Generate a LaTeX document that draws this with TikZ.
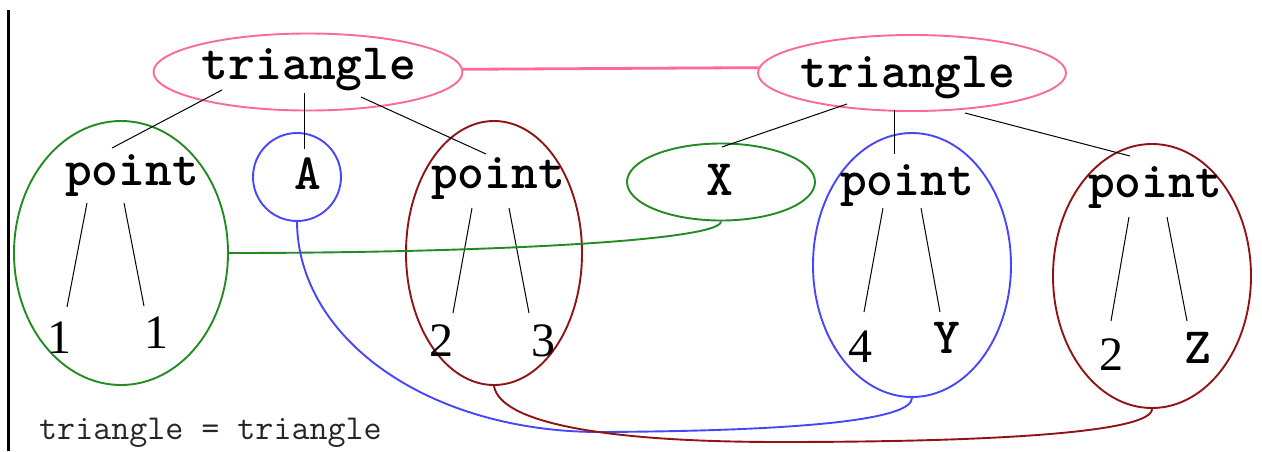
\documentclass[tikz,border=0pt]{standalone}
\usepackage{fontspec}
\usetikzlibrary{shapes.geometric}
\newfontfamily\seriffam{Liberation Serif}
\definecolor{pinkc}{RGB}{255,105,150}
\definecolor{greenc}{RGB}{34,139,34}
\definecolor{bluec}{RGB}{70,70,255}
\definecolor{redc}{RGB}{145,20,20}
\begin{document}
\begin{tikzpicture}[x=1pt,y=-1pt,
  oval/.style={ellipse,draw,line width=1.9pt,inner sep=0pt,fill=none},
  bt/.style={anchor=base,inner sep=0pt,font=\ttfamily\bfseries\fontsize{51}{56}\selectfont},
  num/.style={anchor=base,inner sep=0pt,font=\seriffam\fontsize{48}{52}\selectfont},
  tree/.style={draw=black,line width=1pt},
  link/.style={line width=1.9pt}]
\useasboundingbox (0,0) rectangle (1262,451);
\coordinate (bt0) at (8,10);
\coordinate (bb0) at (8,451);
\draw[line width=3pt] (bt0) -- (bb0);
% ellipses
\node[oval,draw=pinkc,minimum width=309pt,minimum height=77pt] (e1) at (308,72) {};
\node[oval,draw=pinkc,minimum width=308pt,minimum height=76pt] (e2) at (912,73) {};
\node[oval,draw=greenc,minimum width=214pt,minimum height=264pt] (p1) at (121,253) {};
\node[oval,draw=bluec,minimum width=88pt,minimum height=88pt] (ca) at (297,177) {};
\node[oval,draw=redc,minimum width=176pt,minimum height=264pt] (p2) at (494,253) {};
\node[oval,draw=greenc,minimum width=188pt,minimum height=77pt] (cx) at (721,182) {};
\node[oval,draw=bluec,minimum width=198pt,minimum height=264pt] (p3) at (912,265) {};
\node[oval,draw=redc,minimum width=198pt,minimum height=264pt] (p4) at (1152,276) {};
% texts
\node[bt] (t1) at (309,79) {triangle};
\node[bt] (t2) at (908,87) {triangle};
\node[bt] (tp1) at (132,185) {point};
\node[bt] (ta) at (308,189) {A};
\node[bt] (tp2) at (498,188) {point};
\node[bt] (tx) at (720,195) {X};
\node[bt] (tp3) at (907,195) {point};
\node[bt] (tp4) at (1155,197) {point};
\node[num] (n1) at (59,353) {1};
\node[num] (n2) at (156,348) {1};
\node[num] (n3) at (441,356) {2};
\node[num] (n4) at (543,356) {3};
\node[num] (n5) at (860,362) {4};
\node[bt] (ty) at (947,353) {Y};
\node[num] (n6) at (1111,370) {2};
\node[bt] (tz) at (1198,363) {Z};
\node[anchor=base west,inner sep=0pt,text=black!85,font=\ttfamily\fontsize{35}{38}\selectfont] (cap) at (39,439) {triangle = triangle};
% tree line end points
\coordinate (a1) at (222,90); \coordinate (a2) at (112,148);
\coordinate (a3) at (304,93); \coordinate (a4) at (304,149);
\coordinate (a5) at (361,97); \coordinate (a6) at (486,154);
\coordinate (b1) at (87,203); \coordinate (b2) at (67,307);
\coordinate (b3) at (124,203); \coordinate (b4) at (144,306);
\coordinate (c1) at (472,208); \coordinate (c2) at (453,313);
\coordinate (c3) at (509,208); \coordinate (c4) at (529,313);
\coordinate (d1) at (847,104); \coordinate (d2) at (722,147);
\coordinate (d3) at (894,110); \coordinate (d4) at (894,154);
\coordinate (d5) at (965,113); \coordinate (d6) at (1130,156);
\coordinate (f1) at (883,208); \coordinate (f2) at (864,312);
\coordinate (f3) at (921,208); \coordinate (f4) at (940,312);
\coordinate (g1) at (1129,217); \coordinate (g2) at (1111,321);
\coordinate (g3) at (1167,217); \coordinate (g4) at (1187,321);
\foreach \u/\v in {a1/a2,a3/a4,a5/a6,b1/b2,b3/b4,c1/c2,c3/c4,d1/d2,d3/d4,d5/d6,f1/f2,f3/f4,g1/g2,g3/g4}
  \draw[tree] (\u) -- (\v);
% links
\draw[link,draw=pinkc,line width=2.8pt] (e1.1.5) -- (e2.178);
\draw[link,draw=greenc] (p1.east) .. controls (480,253) and (721,241) .. (cx.south);
\draw[link,draw=bluec] (ca.south) .. controls (298,340) and (430,432) .. (600,432) .. controls (800,431) and (912,420) .. (p3.south);
\draw[link,draw=redc] (p2.south) .. controls (500,422) and (600,442) .. (780,442) .. controls (1000,442) and (1152,432) .. (p4.south);
\end{tikzpicture}
\end{document}
